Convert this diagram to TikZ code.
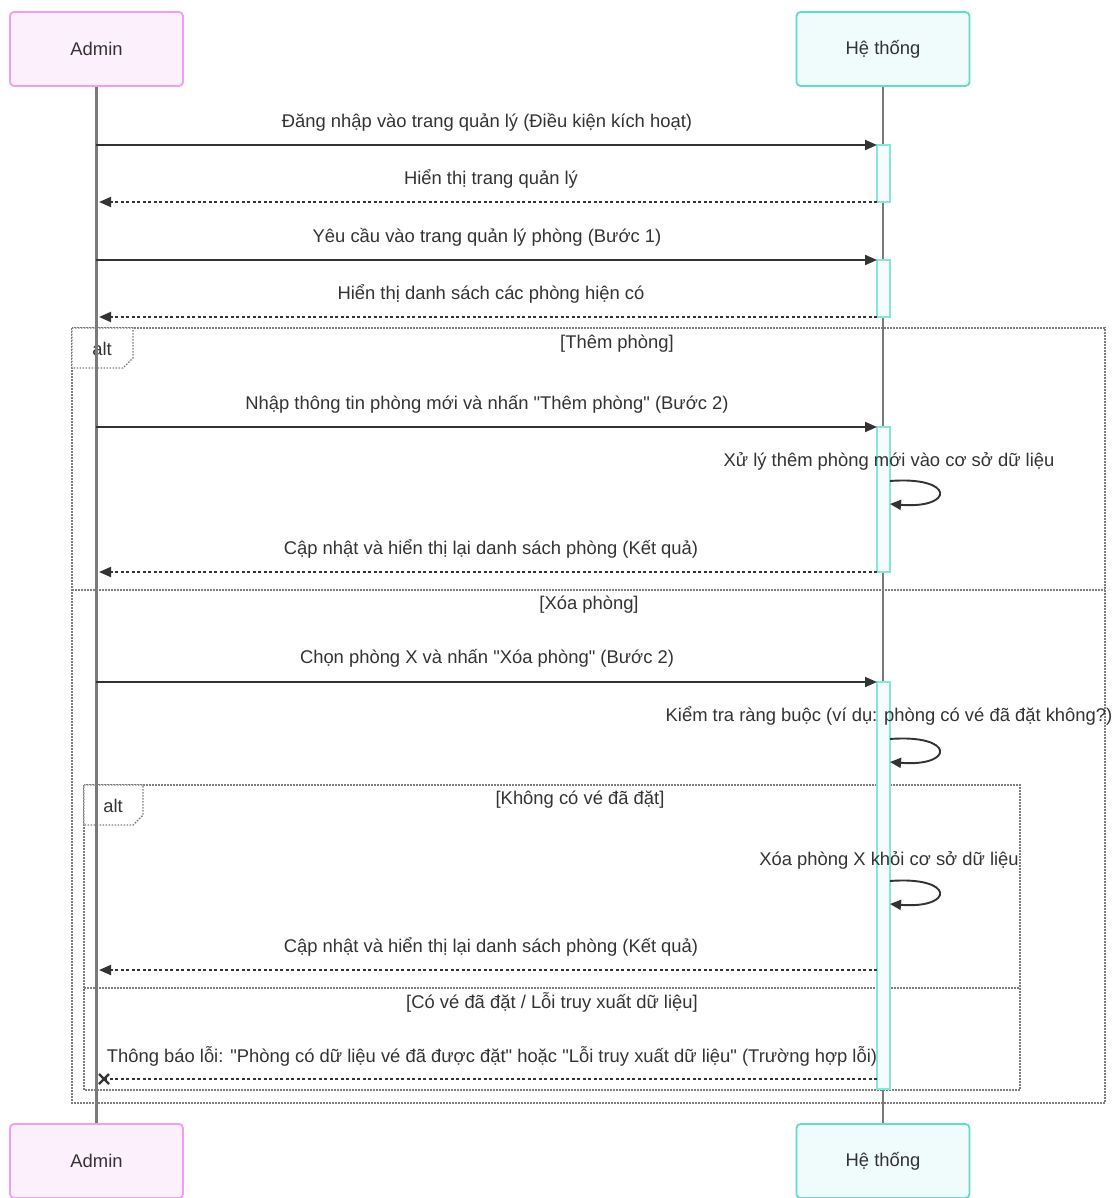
\documentclass[tikz,border=0pt]{standalone}
\usepackage{fontspec}
\setmainfont{Liberation Sans}[Ligatures=TeXOff]
\usetikzlibrary{arrows.meta,calc}
\definecolor{txt}{HTML}{333333}
\definecolor{lifegray}{HTML}{7A7A7A}
\definecolor{framegray}{HTML}{7E7E7E}
\definecolor{admfill}{HTML}{FDF0FD}
\definecolor{admline}{HTML}{F39CF3}
\definecolor{sysfill}{HTML}{F0FCFB}
\definecolor{sysline}{HTML}{62DCC6}
\definecolor{actfill}{HTML}{F4FDFC}
\definecolor{actline}{HTML}{86E6DA}
\tikzset{
  actorA/.style={draw=admline, fill=admfill, line width=1.8pt, rounded corners=4pt,
    minimum width=173pt, minimum height=74pt, text=txt},
  actorS/.style={draw=sysline, fill=sysfill, line width=1.8pt, rounded corners=4pt,
    minimum width=173pt, minimum height=74pt, text=txt},
  lifeline/.style={draw=lifegray, line width=2.3pt},
  actbox/.style={draw=actline, fill=actfill, line width=1.3pt},
  msg/.style={draw=txt, line width=1.9pt, -{Triangle[length=12pt,width=10pt]}},
  reply/.style={msg, dash pattern=on 3pt off 2.5pt},
  selfmsg/.style={draw=txt, line width=1.9pt, -{Triangle[length=11pt,width=10pt]}},
  lbl/.style={text=txt, inner sep=0pt},
  frame/.style={draw=framegray, line width=1.4pt, dash pattern=on 1.6pt off 1.4pt},
  tab/.style={frame, fill=white},
}
\begin{document}
\begin{tikzpicture}[x=1pt, y=-1pt, font=\fontsize{18.4}{22}\selectfont]
\useasboundingbox (0,0) rectangle (1114,1198);

% combined fragments (drawn first, behind lifelines)
\draw[frame] (72,328) rectangle (1105,1103);
\draw[tab] (72,328) -- (133,328) -- (133,358) -- (123,368) -- (72,368) -- cycle;
\node[lbl] (alt1) at (102,349) {alt};
\node[lbl] (g1) at (617,344) {[Thêm phòng]};
\draw[frame] (72,590) -- (1105,590);
\node[lbl] (g2) at (589,605) {[Xóa phòng]};

\draw[frame] (84,785) rectangle (1020,1090);
\draw[tab] (84,785) -- (143,785) -- (143,815) -- (133,825) -- (84,825) -- cycle;
\node[lbl] (alt2) at (113,806) {alt};
\node[lbl] (g3) at (580,800) {[Không có vé đã đặt]};
\draw[frame] (84,988) -- (1020,988);
\node[lbl] (g4) at (552,1002) {[Có vé đã đặt / Lỗi truy xuất dữ liệu]};

% participants
\node[actorA] (adm) at (96.5,49) {Admin};
\node[actorS] (sys) at (883,49) {Hệ thống};
\node[actorA] (admb) at (96.5,1161) {Admin};
\node[actorS] (sysb) at (883,1161) {Hệ thống};

\draw[lifeline] (adm.south) -- (admb.north);
\draw[lifeline] (sys.south) -- (sysb.north);

% activations
\draw[actbox] (877,145) rectangle (890,202);
\draw[actbox] (877,260) rectangle (890,317);
\draw[actbox] (877,427) rectangle (890,572);
\draw[actbox] (877,682) rectangle (890,1089);

% message end points
\coordinate (a1) at (96,145);  \coordinate (s1) at (877,145);
\coordinate (a2) at (99,202);  \coordinate (s2) at (877,202);
\coordinate (a3) at (96,260);  \coordinate (s3) at (877,260);
\coordinate (a4) at (99,317);  \coordinate (s4) at (877,317);
\coordinate (a5) at (96,427);  \coordinate (s5) at (877,427);
\coordinate (a6) at (99,572);  \coordinate (s6) at (877,572);
\coordinate (a7) at (96,682);  \coordinate (s7) at (877,682);
\coordinate (a8) at (99,970);  \coordinate (s8) at (877,970);
\coordinate (a9) at (104,1079); \coordinate (s9) at (877,1079);

\draw[msg] (a1) -- (s1);
\node[lbl] (t1) at (487,122) {Đăng nhập vào trang quản lý (Điều kiện kích hoạt)};
\draw[reply] (s2) -- (a2);
\node[lbl] (t2) at (491,179) {Hiển thị trang quản lý};
\draw[msg] (a3) -- (s3);
\node[lbl] (t3) at (487,237) {Yêu cầu vào trang quản lý phòng (Bước 1)};
\draw[reply] (s4) -- (a4);
\node[lbl] (t4) at (491,294) {Hiển thị danh sách các phòng hiện có};

\draw[msg] (a5) -- (s5);
\node[lbl] (t5) at (487,404) {Nhập thông tin phòng mới và nhấn "Thêm phòng" (Bước 2)};
\coordinate (l1a) at (890,481); \coordinate (l1b) at (890,504);
\draw[selfmsg] (l1a) .. controls (955,476) and (955,509) .. (l1b);
\node[lbl] (t6) at (889,461) {Xử lý thêm phòng mới vào cơ sở dữ liệu};
\draw[reply] (s6) -- (a6);
\node[lbl] (t7) at (491,549) {Cập nhật và hiển thị lại danh sách phòng (Kết quả)};

\draw[msg] (a7) -- (s7);
\node[lbl] (t8) at (487,658) {Chọn phòng X và nhấn "Xóa phòng" (Bước 2)};
\coordinate (l2a) at (890,739); \coordinate (l2b) at (890,762);
\draw[selfmsg] (l2a) .. controls (955,734) and (955,767) .. (l2b);
\node[lbl] (t9) at (889,716) {Kiểm tra ràng buộc (ví dụ: phòng có vé đã đặt không?)};

\coordinate (l3a) at (890,881); \coordinate (l3b) at (890,904);
\draw[selfmsg] (l3a) .. controls (955,876) and (955,909) .. (l3b);
\node[lbl] (t10) at (889,860) {Xóa phòng X khỏi cơ sở dữ liệu};
\draw[reply] (s8) -- (a8);
\node[lbl] (t11) at (491,947) {Cập nhật và hiển thị lại danh sách phòng (Kết quả)};

\draw[reply, -] (s9) -- (a9);
\draw[draw=txt, line width=2.4pt] ($(a9)+(-5,-5)$) -- ++(10,10) ($(a9)+(-5,5)$) -- ++(10,-10);
\node[lbl] (t12) at (492,1056) {Thông báo lỗi: "Phòng có dữ liệu vé đã được đặt" hoặc "Lỗi truy xuất dữ liệu" (Trường hợp lỗi)};
\end{tikzpicture}
\end{document}
